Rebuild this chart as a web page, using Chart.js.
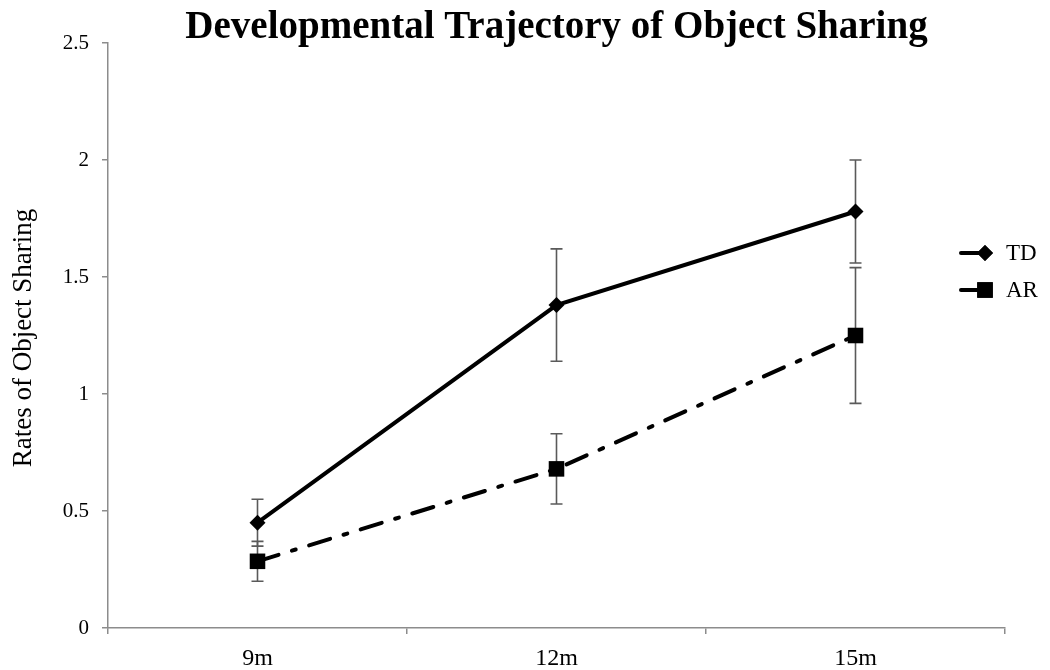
<!DOCTYPE html>
<html>
<head>
<meta charset="utf-8">
<script src="https://cdn.jsdelivr.net/npm/chart.js@4.4.0/dist/chart.umd.min.js"></script>
<style>
html,body{margin:0;padding:0;background:#fff;}
#wrap{width:1050px;height:670px;position:relative;}
</style>
</head>
<body>
<div id="wrap"><canvas id="c" width="1050" height="670"></canvas></div>
<script>
const categories = ['9m', '12m', '15m'];
const tdValues = [0.45, 1.38, 1.78];
const tdErrors = [0.10, 0.24, 0.22];
const arValues = [0.285, 0.68, 1.25];
const arErrors = [0.085, 0.15, 0.29];
const yTicks = [0, 0.5, 1, 1.5, 2, 2.5];
const seriesNames = ['TD', 'AR'];
const chartTitle = 'Developmental Trajectory of Object Sharing';
const yTitle = 'Rates of Object Sharing';

const SERIF = '"Liberation Serif", "DejaVu Serif", serif';

const errorBars = {
  id: 'errorBars',
  beforeDatasetsDraw(chart) {
    const ctx = chart.ctx;
    const y = chart.scales.y;
    const errs = [tdErrors, arErrors];
    ctx.save();
    ctx.strokeStyle = '#5a5a5a';
    ctx.lineWidth = 1.6;
    chart.data.datasets.forEach((ds, i) => {
      const meta = chart.getDatasetMeta(i);
      meta.data.forEach((pt, j) => {
        const v = ds.data[j], e = errs[i][j];
        const x = pt.x;
        const yt = y.getPixelForValue(v + e);
        const yb = y.getPixelForValue(v - e);
        ctx.beginPath();
        ctx.moveTo(x, yt); ctx.lineTo(x, yb);
        ctx.moveTo(x - 6, yt); ctx.lineTo(x + 6, yt);
        ctx.moveTo(x - 6, yb); ctx.lineTo(x + 6, yb);
        ctx.stroke();
      });
    });
    ctx.restore();
  }
};

const decorations = {
  id: 'decorations',
  afterDraw(chart) {
    const ctx = chart.ctx;
    const ca = chart.chartArea;
    ctx.save();
    // title
    ctx.fillStyle = '#000';
    ctx.font = 'bold 39px ' + SERIF;
    ctx.textAlign = 'center';
    ctx.textBaseline = 'middle';
    ctx.fillText(chartTitle, (ca.left + ca.right) / 2, 28);
    // y title
    ctx.save();
    ctx.translate(24, 338);
    ctx.rotate(-Math.PI / 2);
    ctx.font = '27px ' + SERIF;
    ctx.fillText(yTitle, 0, 0);
    ctx.restore();
    // legend
    const rows = [253, 290];
    chart.data.datasets.forEach((ds, i) => {
      const yy = rows[i];
      ctx.save();
      ctx.strokeStyle = '#000';
      ctx.lineWidth = 4;
      ctx.lineCap = 'round';
      ctx.beginPath();
      ctx.moveTo(961, yy); ctx.lineTo(985, yy);
      ctx.stroke();
      Chart.helpers.drawPoint(ctx, {pointStyle: ds.pointStyle, radius: ds.pointRadius, borderWidth: 0}, 985, yy);
      ctx.fillStyle = '#000';
      ctx.fill();
      ctx.restore();
      ctx.fillStyle = '#000';
      ctx.font = '23px ' + SERIF;
      ctx.textAlign = 'left';
      ctx.textBaseline = 'middle';
      ctx.fillText(seriesNames[i], 1006, yy + 1);
    });
    ctx.restore();
  }
};

new Chart(document.getElementById('c'), {
  type: 'line',
  data: {
    labels: categories,
    datasets: [
      {
        label: seriesNames[0],
        data: tdValues,
        borderColor: '#000',
        backgroundColor: '#000',
        borderWidth: 4,
        pointStyle: 'rectRot',
        pointRadius: 8,
        pointBorderWidth: 0,
        tension: 0
      },
      {
        label: seriesNames[1],
        data: arValues,
        borderColor: '#000',
        backgroundColor: '#000',
        borderWidth: 4,
        borderDash: [22, 14, 4, 14],
        borderCapStyle: 'round',
        pointStyle: 'rect',
        pointRadius: 11,
        pointBorderWidth: 0,
        tension: 0
      }
    ]
  },
  options: {
    responsive: false,
    animation: false,
    devicePixelRatio: 1,
    layout: { padding: { top: 43, right: 45, bottom: 0, left: 0 } },
    plugins: {
      legend: { display: false },
      title: { display: false },
      tooltip: { enabled: false }
    },
    scales: {
      x: {
        type: 'category',
        offset: true,
        grid: {
          offset: true,
          drawOnChartArea: false,
          drawTicks: true,
          tickLength: 6,
          color: '#8c8c8c',
          lineWidth: 1.5
        },
        border: { color: '#8c8c8c', width: 1.5 },
        ticks: {
          color: '#000',
          font: { family: SERIF, size: 24 },
          padding: 10
        },
        afterFit(scale) { scale.height = 42; }
      },
      y: {
        min: 0,
        max: 2.5,
        afterBuildTicks(scale) { scale.ticks = yTicks.map(v => ({ value: v })); },
        grid: {
          drawOnChartArea: false,
          drawTicks: true,
          tickLength: 6,
          color: '#8c8c8c',
          lineWidth: 1.5
        },
        border: { color: '#8c8c8c', width: 1.5 },
        ticks: {
          color: '#000',
          font: { family: SERIF, size: 21 },
          padding: 13,
          callback: (v) => String(v)
        },
        afterFit(scale) { scale.width = 108; }
      }
    }
  },
  plugins: [errorBars, decorations]
});
</script>
</body>
</html>
